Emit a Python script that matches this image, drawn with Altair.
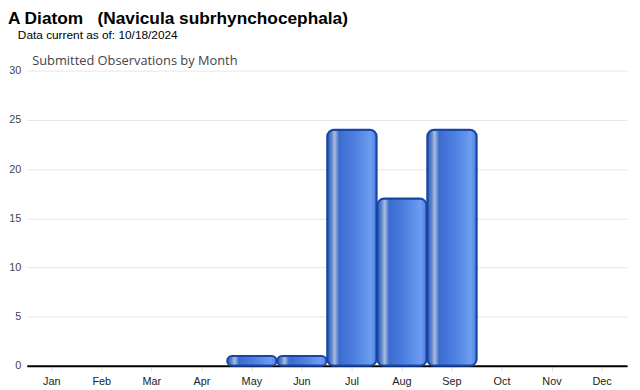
import altair as alt
import pandas as pd

months = ["Jan", "Feb", "Mar", "Apr", "May", "Jun", "Jul", "Aug", "Sep", "Oct", "Nov", "Dec"]
counts = [0, 0, 0, 0, 1, 1, 24, 17, 24, 0, 0, 0]
y_ticks = [0, 5, 10, 15, 20, 25, 30]

title_text = "A Diatom\u00a0\u00a0\u00a0(Navicula subrhynchocephala)"
subtitle_text = "\u200b\u00a0\u00a0\u00a0Data current as of: 10/18/2024"
panel_title = "Submitted Observations by Month"

df = pd.DataFrame({"month": months, "count": counts})

grad = alt.Gradient(
    gradient="linear",
    x1=0, x2=1, y1=0, y2=0,
    stops=[
        alt.GradientStop(offset=0.0, color="#2a58bd"),
        alt.GradientStop(offset=0.08, color="#5a80c8"),
        alt.GradientStop(offset=0.15, color="#a9bde0"),
        alt.GradientStop(offset=0.24, color="#3c6bcf"),
        alt.GradientStop(offset=0.55, color="#4d7fe0"),
        alt.GradientStop(offset=0.88, color="#6d9df0"),
        alt.GradientStop(offset=1.0, color="#4f80dc"),
    ],
)

chart = (
    alt.Chart(df)
    .transform_filter(alt.datum["count"] > 0)
    .mark_bar(fill=grad, stroke="#1745a5", strokeWidth=2, cornerRadius=7)
    .encode(
        x=alt.X(
            "month:N",
            sort=months,
            scale=alt.Scale(domain=months, paddingInner=0.012, paddingOuter=0.006),
            axis=alt.Axis(
                title=None,
                labelAngle=0,
                domainColor="#000000",
                domainWidth=2,
                tickColor="#dddddd",
                tickSize=5,
                labelPadding=5,
                labelFont="Liberation Sans",
                labelFontSize=11,
                labelColor="#222222",
            ),
        ),
        y=alt.Y(
            "count:Q",
            scale=alt.Scale(domain=[0, 30], nice=False),
            axis=alt.Axis(
                values=y_ticks,
                title=panel_title,
                titleAngle=0,
                titleAlign="left",
                titleBaseline="alphabetic",
                titleX=5,
                titleY=-6,
                titleFont="Open Sans",
                titleFontSize=13,
                titleFontWeight="normal",
                titleColor="#444444",
                domain=False,
                ticks=False,
                labelPadding=6,
                labelFont="Liberation Sans",
                labelFontSize=11,
                labelColor="#444444",
                gridColor="#e6e6e6",
            ),
        ),
    )
    .properties(
        width=608,
        height=299,
        autosize=alt.AutoSizeParams(type="none"),
        padding={"left": 19, "top": 61, "right": 5, "bottom": 22},
        title=alt.TitleParams(
            text=title_text,
            subtitle=subtitle_text,
            anchor="start",
            frame="group",
            font="Liberation Sans",
            fontSize=17.5,
            fontWeight="bold",
            color="#000000",
            subtitleFont="Liberation Sans",
            subtitleFontSize=12,
            subtitleColor="#000000",
            subtitlePadding=3,
            dx=-19,
            offset=14,
        ),
    )
    .configure_view(stroke=None)
)

chart.save("out.html", embed_options={"renderer": "svg", "actions": False})
